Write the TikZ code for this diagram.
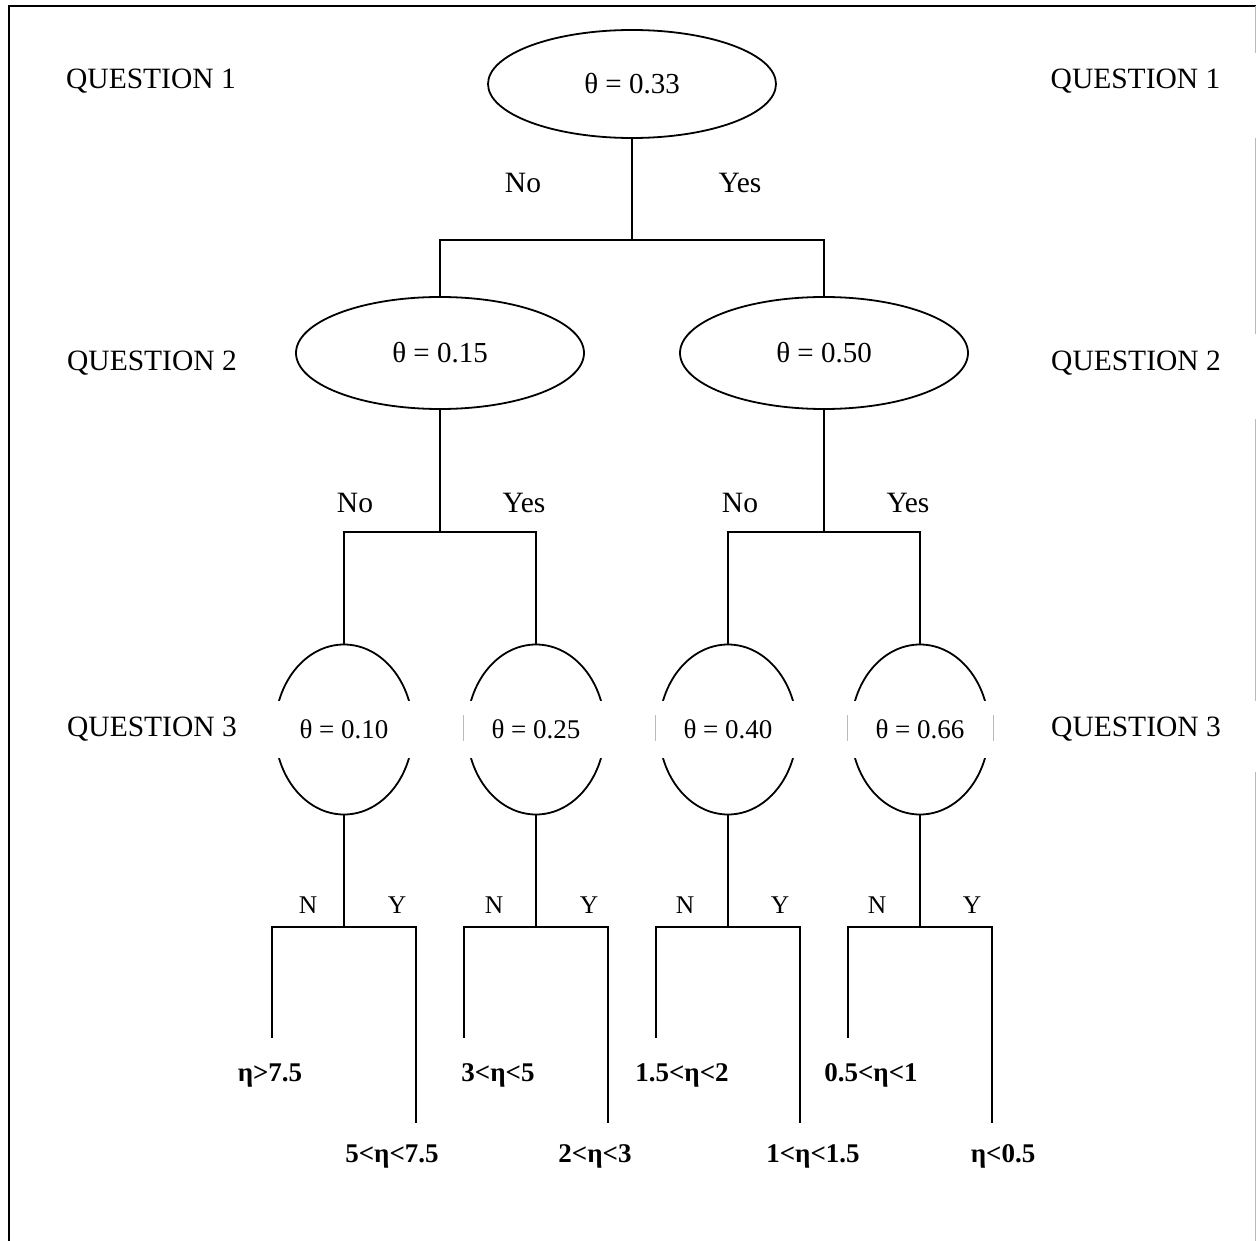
\documentclass[tikz,border=0pt]{standalone}
\usepackage{fontspec}
\setmainfont{Liberation Serif}
\usetikzlibrary{shapes.geometric}
\begin{document}
\begin{tikzpicture}[x=1pt,y=-1pt,line width=1.8pt,
  question/.style={inner sep=0pt,text height=19.5pt,text depth=0pt,font=\fontsize{29.5}{31}\selectfont},
  branch/.style={inner sep=0pt,text height=19.5pt,text depth=0pt,font=\fontsize{29.5}{31}\selectfont},
  nylab/.style={inner sep=0pt,text height=17pt,text depth=0pt,font=\fontsize{25.5}{27}\selectfont},
  leaf/.style={inner sep=0pt,text height=18.3pt,text depth=0pt,font=\fontsize{27}{29}\selectfont\bfseries},
  bigell/.style={draw,ellipse,inner sep=0pt,minimum width=288pt,font=\fontsize{29}{31}\selectfont},
  smallell/.style={draw,ellipse,inner sep=0pt,minimum width=138pt,minimum height=170pt},
  smalltxt/.style={fill=white,inner sep=0pt,minimum width=146pt,minimum height=57pt,font=\fontsize{27}{29}\selectfont},
  frag/.style={gray!55,line width=1pt}]
\useasboundingbox (0,0) rectangle (1256,1241);
% frame
\draw[line width=2pt] (8.5,1245) -- (8.5,6.5) -- (1255.5,6.5);
\draw[frag] (1255.5,6.5) -- (1255.5,1245);
\fill[white] (1040,53) rectangle (1260,138);
\fill[white] (1040,334) rectangle (1260,419);
\fill[white] (1040,701) rectangle (1260,772);
% question labels
\node[question] (q1l) at (151,79) {QUESTION 1};
\node[question] (q2l) at (152,361) {QUESTION 2};
\node[question] (q3l) at (152,727) {QUESTION 3};
\node[question] (q1r) at (1135.5,79) {QUESTION 1};
\node[question] (q2r) at (1136,361) {QUESTION 2};
\node[question] (q3r) at (1136,727) {QUESTION 3};
% level 1
\node[bigell,minimum height=108pt] (e1) at (632,84) {θ = 0.33};
% level 2
\node[bigell,minimum height=112pt] (e2a) at (440,353) {θ = 0.15};
\node[bigell,minimum height=112pt] (e2b) at (824,353) {θ = 0.50};
% level 3
\node[smallell] (e3a) at (344,729.5) {};
\node[smallell] (e3b) at (536,729.5) {};
\node[smallell] (e3c) at (728,729.5) {};
\node[smallell] (e3d) at (920,729.5) {};
\node[smalltxt] (t3a) at (344,729.5) {θ = 0.10};
\node[smalltxt] (t3b) at (536,729.5) {θ = 0.25};
\node[smalltxt] (t3c) at (728,729.5) {θ = 0.40};
\node[smalltxt] (t3d) at (920,729.5) {θ = 0.66};
\draw[frag] (463,715) -- (463,741);
\draw[frag] (655,715) -- (655,741);
\draw[frag] (847,715) -- (847,741);
\draw[frag] (993,715) -- (993,741);
% junctions
\coordinate (j1) at (632,240);
\coordinate (j2a) at (440,532);
\coordinate (j2b) at (824,532);
\coordinate (j3a) at (344,927);
\coordinate (j3b) at (536,927);
\coordinate (j3c) at (728,927);
\coordinate (j3d) at (920,927);
% leaf ends
\coordinate (l1) at (272,1038);
\coordinate (l2) at (416,1123);
\coordinate (l3) at (464,1038);
\coordinate (l4) at (608,1123);
\coordinate (l5) at (656,1038);
\coordinate (l6) at (800,1123);
\coordinate (l7) at (848,1038);
\coordinate (l8) at (992,1123);
% connectors
\draw (e1.south) -- (j1);
\draw (e2a.north) |- (j1) -| (e2b.north);
\draw (e2a.south) -- (j2a);
\draw (e3a.north) |- (j2a) -| (e3b.north);
\draw (e2b.south) -- (j2b);
\draw (e3c.north) |- (j2b) -| (e3d.north);
\draw (e3a.south) -- (j3a);
\draw (l1) |- (j3a) -| (l2);
\draw (e3b.south) -- (j3b);
\draw (l3) |- (j3b) -| (l4);
\draw (e3c.south) -- (j3c);
\draw (l5) |- (j3c) -| (l6);
\draw (e3d.south) -- (j3d);
\draw (l7) |- (j3d) -| (l8);
% branch labels
\node[branch] (n1) at (523,182.5) {No};
\node[branch] (y1) at (740,182.5) {Yes};
\node[branch] (n2a) at (355,502.5) {No};
\node[branch] (y2a) at (524,502.5) {Yes};
\node[branch] (n2b) at (740,502.5) {No};
\node[branch] (y2b) at (908,502.5) {Yes};
\node[nylab] (n3a) at (308,905) {N};
\node[nylab] (y3a) at (397,905) {Y};
\node[nylab] (n3b) at (494,905) {N};
\node[nylab] (y3b) at (589,905) {Y};
\node[nylab] (n3c) at (685,905) {N};
\node[nylab] (y3c) at (780,905) {Y};
\node[nylab] (n3d) at (877,905) {N};
\node[nylab] (y3d) at (972,905) {Y};
% leaf labels
\node[leaf] (r1) at (270,1072) {η>7.5};
\node[leaf] (r2) at (392,1153) {5<η<7.5};
\node[leaf] (r3) at (498,1072) {3<η<5};
\node[leaf] (r4) at (595,1153) {2<η<3};
\node[leaf] (r5) at (682,1072) {1.5<η<2};
\node[leaf] (r6) at (813,1153) {1<η<1.5};
\node[leaf] (r7) at (871,1072) {0.5<η<1};
\node[leaf] (r8) at (1003,1153) {η<0.5};
\end{tikzpicture}
\end{document}
